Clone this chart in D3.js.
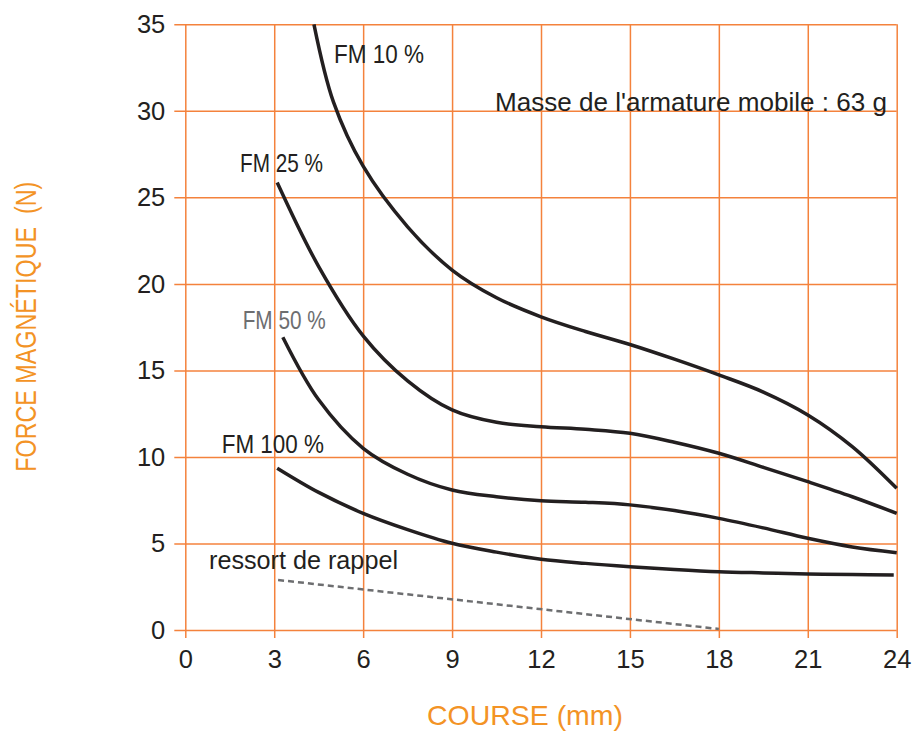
<!DOCTYPE html>
<html>
<head>
<meta charset="utf-8">
<script src="https://cdn.jsdelivr.net/npm/d3@7"></script>
<style>
  body { margin: 0; background: #fff; }
  text { font-family: "Liberation Sans", Arial, sans-serif; }
</style>
</head>
<body>
<svg class="chart" width="912" height="733"></svg>
<script>
// tick values
const xTicks = [0, 3, 6, 9, 12, 15, 18, 21, 24]
const yTicks = [0, 5, 10, 15, 20, 25, 30, 35]

// curves: [course mm, force N]
const fm10 = [[4.34, 35], [5, 30.5], [6, 26.8], [7.5, 23.3], [9, 20.8], [10.5, 19.2], [12, 18.1],
  [13.5, 17.25], [15, 16.5], [16.5, 15.65], [18, 14.74], [19.5, 13.75], [21, 12.43], [22.5, 10.6], [24, 8.19]]
const fm25 = [[3.1, 25.86], [4.5, 21.0], [6, 17.0], [7.5, 14.4], [9, 12.72], [10.5, 12.0], [12, 11.75],
  [13.5, 11.6], [15, 11.37], [16.5, 10.85], [18, 10.21], [19.5, 9.4], [21, 8.57], [22.5, 7.7], [24, 6.74]]
const fm50 = [[3.29, 16.92], [4.5, 13.3], [6, 10.5], [7.5, 9.0], [9, 8.09], [10.5, 7.7], [12, 7.47],
  [13.5, 7.38], [15, 7.23], [16.5, 6.9], [18, 6.45], [19.5, 5.9], [21, 5.30], [22.5, 4.8], [24, 4.47]]
const fm100 = [[3.1, 9.35], [4.5, 7.95], [6, 6.74], [7.5, 5.8], [9, 5.01], [10.5, 4.5], [12, 4.09],
  [13.5, 3.85], [15, 3.66], [16.5, 3.5], [18, 3.37], [19.5, 3.3], [21, 3.24], [22.5, 3.2], [23.9, 3.18]]
const ressort = [[3.13, 2.89], [18, 0.06]]

const svg = d3.select(".chart")

const x = d3.scaleLinear().domain([0, 24]).range([185.3, 896.7])
const y = d3.scaleLinear().domain([0, 35]).range([630, 24.3])

const gridColor = "#F4823C"
const orange = "#F39325"
const ink = "#231F20"

// y axis + horizontal grid
const yAxis = svg.append("g")
  .attr("transform", "translate(" + (x(0) - 11) + ",0)")
  .call(d3.axisLeft(y).tickValues(yTicks).tickSize(-(x(24) - x(0) + 11)).tickPadding(9))
yAxis.select(".domain").remove()
yAxis.selectAll("line").attr("stroke", gridColor).attr("stroke-width", 1.5)
yAxis.selectAll("text").attr("font-size", 25.5).attr("fill", ink)
  .attr("font-family", "Liberation Sans, Arial, sans-serif")

// x axis + vertical grid
const xAxis = svg.append("g")
  .attr("transform", "translate(0," + (y(0) + 8) + ")")
  .call(d3.axisBottom(x).tickValues(xTicks).tickSize(-(y(0) - y(35) + 8)).tickPadding(12))
xAxis.select(".domain").remove()
xAxis.selectAll("line").attr("stroke", gridColor).attr("stroke-width", 1.5)
xAxis.selectAll("text").attr("font-size", 25.5).attr("fill", ink)
  .attr("font-family", "Liberation Sans, Arial, sans-serif")

const line = d3.line()
  .x(d => x(d[0]))
  .y(d => y(d[1]))
  .curve(d3.curveCatmullRom.alpha(0.5))

svg.selectAll("path.fm")
  .data([fm10, fm25, fm50, fm100])
  .enter()
  .append("path")
  .attr("class", "fm")
  .attr("d", line)
  .attr("fill", "none")
  .attr("stroke", ink)
  .attr("stroke-width", 3.5)

svg.append("path")
  .attr("d", d3.line().x(d => x(d[0])).y(d => y(d[1]))(ressort))
  .attr("fill", "none")
  .attr("stroke", "#6D6E70")
  .attr("stroke-width", 2.5)
  .attr("stroke-dasharray", "6,4")

// annotations
function label(txt, x0, base, size, len, fill) {
  const t = svg.append("text")
    .attr("x", x0).attr("y", base)
    .attr("font-size", size)
    .attr("fill", fill || ink)
    .text(txt)
  if (len) t.attr("textLength", len).attr("lengthAdjust", "spacingAndGlyphs")
  return t
}
label("FM 10 %", 334, 63.3, 25, 90)
label("FM 25 %", 240, 171.7, 25, 83)
label("FM 50 %", 242.7, 329, 25, 83, "#6D6E70")
label("FM 100 %", 221.7, 453, 25, 102.3)
label("ressort de rappel", 209, 569, 25.2, 189)
label("Masse de l'armature mobile : 63 g", 495, 110.5, 25.5, 392)

// axis titles
svg.append("text")
  .attr("x", 525).attr("y", 725)
  .attr("text-anchor", "middle")
  .attr("font-size", 28.5)
  .attr("fill", orange)
  .attr("textLength", 196).attr("lengthAdjust", "spacingAndGlyphs")
  .text("COURSE (mm)")

svg.append("text")
  .attr("transform", "translate(35.5,326.7) rotate(-90)")
  .attr("text-anchor", "middle")
  .attr("font-size", 29)
  .attr("fill", orange)
  .attr("textLength", 290).attr("lengthAdjust", "spacingAndGlyphs")
  .attr("xml:space", "preserve")
  .text("FORCE MAGNÉTIQUE  (N)")
</script>
</body>
</html>
